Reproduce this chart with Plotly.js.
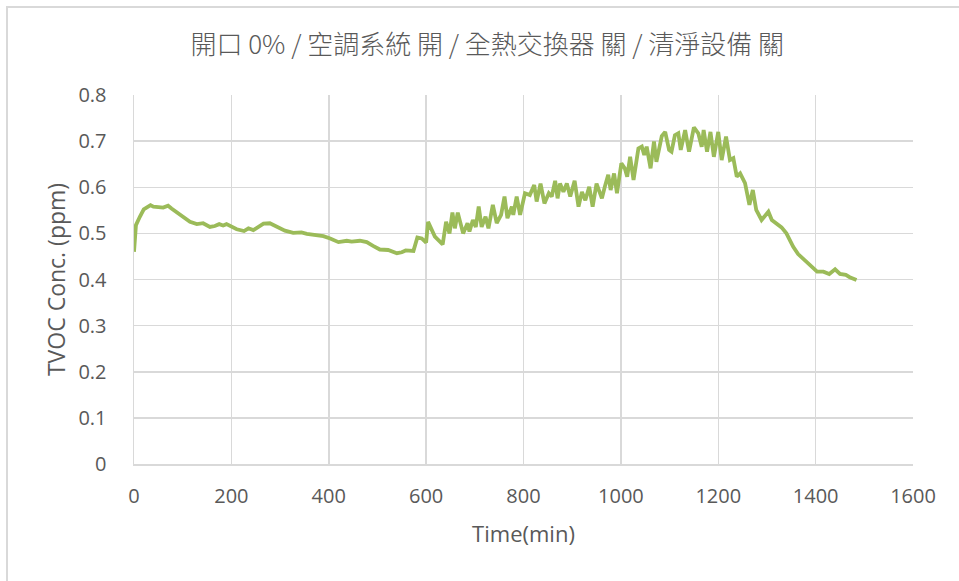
<!DOCTYPE html>
<html>
<head>
<meta charset="utf-8">
<script src="https://cdn.plot.ly/plotly-3.0.1.min.js"></script>
<style>
  html, body { margin: 0; padding: 0; background: #ffffff; overflow: hidden; }
  #chart { position: absolute; left: 0; top: 0; width: 959px; height: 581px; }
  #frame { position: absolute; left: 6px; top: 6px; width: 980px; height: 600px;
           border: 2px solid #d9d9d9; pointer-events: none; box-sizing: border-box; }
</style>
</head>
<body>
<div id="chart"></div>
<div id="frame"></div>
<script>
const chartTitle = "開口 0% / 空調系統 開 / 全熱交換器 關 / 清淨設備 關";
const xTitle = "Time(min)";
const yTitle = "TVOC Conc. (ppm)";

const timeMin = [
  0,4,12,20,34,40,60,70,77,91,
  101,115,129,142,156,166,175,183,190,201,
  211,226,235,245,255,266,279,293,310,327,
  344,355,375,389,403,420,437,447,464,478,
  491,505,522,540,550,558,574,579,582,591,
  600,604,618,634,641,648,654,659,665,676,
  685,689,696,702,708,714,722,728,737,745,
  754,761,767,776,779,786,793,803,813,822,
  827,835,843,852,858,865,870,875,882,889,
  896,905,913,920,927,935,942,950,961,967,
  974,979,986,992,1001,1008,1013,1019,1026,1036,
  1043,1048,1053,1061,1068,1073,1084,1091,1099,1104,
  1111,1118,1123,1132,1140,1150,1159,1166,1170,1177,
  1184,1191,1200,1207,1216,1224,1231,1238,1245,1255,
  1264,1271,1278,1289,1303,1310,1330,1340,1354,1364,
  1378,1392,1403,1416,1428,1440,1450,1462,1470,1484
];

const tvoc = [
  0.460,0.518,0.536,0.552,0.561,0.558,0.556,0.560,0.554,0.543,
  0.535,0.525,0.520,0.522,0.514,0.516,0.520,0.517,0.520,0.514,
  0.509,0.505,0.511,0.507,0.514,0.521,0.522,0.514,0.506,0.501,
  0.502,0.499,0.497,0.494,0.489,0.481,0.484,0.482,0.484,0.481,
  0.473,0.465,0.464,0.457,0.459,0.463,0.462,0.486,0.491,0.489,
  0.480,0.525,0.493,0.476,0.525,0.500,0.545,0.511,0.545,0.500,
  0.522,0.504,0.529,0.514,0.558,0.514,0.536,0.511,0.562,0.522,
  0.540,0.580,0.533,0.558,0.540,0.580,0.540,0.587,0.583,0.605,
  0.569,0.608,0.565,0.587,0.580,0.614,0.576,0.608,0.590,0.608,
  0.580,0.614,0.558,0.590,0.572,0.601,0.558,0.608,0.576,0.601,
  0.627,0.594,0.630,0.587,0.652,0.641,0.623,0.666,0.616,0.684,
  0.688,0.670,0.688,0.641,0.699,0.655,0.711,0.720,0.681,0.677,
  0.713,0.717,0.681,0.724,0.677,0.730,0.717,0.688,0.724,0.677,
  0.720,0.666,0.720,0.659,0.710,0.659,0.663,0.623,0.630,0.609,
  0.562,0.594,0.551,0.529,0.547,0.529,0.513,0.500,0.471,0.455,
  0.442,0.428,0.417,0.417,0.412,0.422,0.412,0.410,0.405,0.399
];

const xTickVals = [0,200,400,600,800,1000,1200,1400,1600];
const yTickVals = [0,0.1,0.2,0.3,0.4,0.5,0.6,0.7,0.8];
const yTickText = ["0","0.1","0.2","0.3","0.4","0.5","0.6","0.7","0.8"];

const textColor = "#595959";
const gridColor = "#d9d9d9";
const latin = "'Open Sans', 'Liberation Sans', sans-serif";

const trace = {
  x: timeMin,
  y: tvoc,
  type: "scatter",
  mode: "lines",
  line: { color: "#9bbb59", width: 3.8, shape: "linear" },
  hoverinfo: "skip"
};

const layout = {
  width: 959,
  height: 581,
  margin: { l: 134, r: 46, t: 95, b: 117, pad: 0 },
  paper_bgcolor: "#ffffff",
  plot_bgcolor: "#ffffff",
  showlegend: false,
  title: {
    text: chartTitle,
    font: { family: "'Noto Sans CJK TC', 'Noto Sans CJK SC', sans-serif", size: 26, color: textColor, weight: 300 },
    x: 0.508, xanchor: "center",
    y: 0.922, yanchor: "middle"
  },
  xaxis: {
    range: [0, 1600],
    tickmode: "array",
    tickvals: xTickVals,
    ticktext: xTickVals.map(String),
    showgrid: true,
    gridcolor: gridColor,
    gridwidth: 1.5,
    zeroline: false,
    showline: true,
    linecolor: gridColor,
    linewidth: 1.5,
    ticks: "",
    ticklabelstandoff: 13,
    tickfont: { family: latin, size: 20, color: textColor },
    title: { text: xTitle, font: { family: latin, size: 22, color: textColor }, standoff: 19 },
    automargin: false,
    fixedrange: true
  },
  yaxis: {
    range: [0, 0.8],
    tickmode: "array",
    tickvals: yTickVals,
    ticktext: yTickText,
    showgrid: true,
    gridcolor: gridColor,
    gridwidth: 1.5,
    zeroline: false,
    showline: true,
    linecolor: gridColor,
    linewidth: 1.5,
    ticks: "",
    ticklabelstandoff: 22,
    tickfont: { family: latin, size: 20, color: textColor },
    title: { text: yTitle, font: { family: latin, size: 23, color: textColor }, standoff: 6 },
    automargin: false,
    fixedrange: true
  }
};

Plotly.newPlot("chart", [trace], layout, { displayModeBar: false, staticPlot: true });
</script>
</body>
</html>
